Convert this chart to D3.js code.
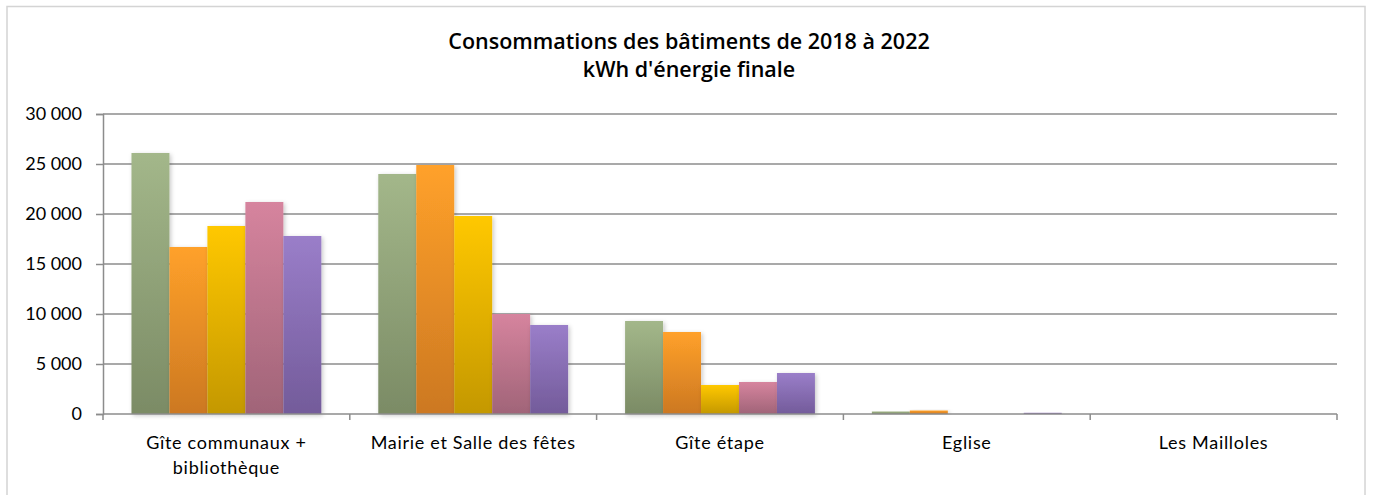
<!DOCTYPE html>
<html>
<head>
<meta charset="utf-8">
<script src="https://cdn.jsdelivr.net/npm/d3@7"></script>
<style>
  body { margin: 0; background: #fff; }
  text { fill: #000; }
</style>
</head>
<body>
<script>
//Chart data
var categories = ["Gîte communaux + bibliothèque", "Mairie et Salle des fêtes", "Gîte étape", "Eglise", "Les Mailloles"];
var years = ["2018", "2019", "2020", "2021", "2022"];
var values2018 = [26100, 24000, 9300, 250, 0];
var values2019 = [16700, 24900, 8200, 350, 0];
var values2020 = [18800, 19800, 2900, 0, 0];
var values2021 = [21200, 10000, 3200, 0, 0];
var values2022 = [17800, 8900, 4100, 120, 0];
var yTicks = [0, 5000, 10000, 15000, 20000, 25000, 30000];

var series = [values2018, values2019, values2020, values2021, values2022];

//Gradient colours (top, bottom) per year
var topColors = ["#a3b78a", "#ffa12a", "#ffc803", "#d6849e", "#9a7ec9"];
var bottomColors = ["#7b8b65", "#cc7822", "#c49800", "#a06478", "#735b9a"];

//Width and height
var w = 1373;
var h = 495;
var margin = {left: 103, right: 36, top: 114, bottom: 81};

var svg = d3.select("body")
            .append("svg")
            .attr("width", w)
            .attr("height", h);

var defs = svg.append("defs");

years.forEach(function(y, i) {
    var g = defs.append("linearGradient")
        .attr("id", "grad" + i)
        .attr("x1", 0).attr("y1", 0)
        .attr("x2", 0).attr("y2", 1);
    g.append("stop").attr("offset", "0%").attr("stop-color", topColors[i]);
    g.append("stop").attr("offset", "100%").attr("stop-color", bottomColors[i]);
});

var shadow = defs.append("filter")
    .attr("id", "shadow")
    .attr("x", "-20%").attr("y", "-20%")
    .attr("width", "140%").attr("height", "140%");
shadow.append("feDropShadow")
    .attr("dx", 1.5).attr("dy", 1.5)
    .attr("stdDeviation", 2)
    .attr("flood-color", "#000")
    .attr("flood-opacity", 0.22);

//Outer border
svg.append("rect")
    .attr("x", 7).attr("y", 6.5)
    .attr("width", 1358).attr("height", 495)
    .attr("fill", "none")
    .attr("stroke", "#d4d4d4")
    .attr("stroke-width", 1.5);

//Title
var title = svg.append("text")
    .attr("x", 688)
    .attr("text-anchor", "middle")
    .style("font-family", "'Open Sans', sans-serif")
    .style("font-weight", 600)
    .style("font-size", "21.5px");
title.append("tspan").attr("x", 689).attr("y", 49).text("Consommations des bâtiments de 2018 à 2022");
title.append("tspan").attr("x", 689).attr("y", 77).text("kWh d'énergie finale");

//Scales
var x0 = d3.scaleBand()
    .domain(categories)
    .range([margin.left, w - margin.right])
    .padding(0);

var x1 = d3.scaleBand()
    .domain(years)
    .range([0, x0.bandwidth()])
    .paddingInner(0)
    .paddingOuter(0.75);

var y = d3.scaleLinear()
    .domain([0, 30000])
    .range([h - margin.bottom, margin.top]);

var locale = d3.formatLocale({decimal: ",", thousands: " ", grouping: [3], currency: ["", " €"]});
var fmt = locale.format(",d");

//Gridlines
svg.append("g")
    .selectAll("line")
    .data(yTicks.slice(1))
    .enter()
    .append("line")
    .attr("x1", margin.left)
    .attr("x2", w - margin.right)
    .attr("y1", function(d) { return y(d); })
    .attr("y2", function(d) { return y(d); })
    .attr("stroke", "#8c8c8c")
    .attr("stroke-width", 1.5);

//Y axis
var yAxis = svg.append("g")
    .attr("transform", "translate(" + margin.left + ",0)")
    .call(d3.axisLeft(y).tickValues(yTicks).tickFormat(fmt).tickSize(7).tickPadding(14));
yAxis.select(".domain").attr("stroke", "#8c8c8c").attr("stroke-width", 1.5);
yAxis.selectAll(".tick line").attr("stroke", "#8c8c8c").attr("stroke-width", 1.5);
yAxis.selectAll("text")
    .style("font-family", "Lato, sans-serif")
    .style("font-size", "18px")
    .attr("fill", "#000");

//Bars
var groups = svg.append("g")
    .selectAll("g")
    .data(categories)
    .enter()
    .append("g")
    .attr("transform", function(d) { return "translate(" + x0(d) + ",0)"; });

groups.selectAll("rect")
    .data(function(d, ci) {
        return years.map(function(yr, si) { return {year: yr, si: si, value: series[si][ci]}; });
    })
    .enter()
    .append("rect")
    .filter(function(d) { return d.value > 0; })
    .attr("x", function(d) { return x1(d.year); })
    .attr("y", function(d) { return y(d.value); })
    .attr("width", x1.bandwidth())
    .attr("height", function(d) { return y(0) - y(d.value); })
    .attr("fill", function(d) { return "url(#grad" + d.si + ")"; })
    .attr("filter", "url(#shadow)");

//X axis
var xAxisY = y(0);
svg.append("line")
    .attr("x1", margin.left).attr("x2", w - margin.right)
    .attr("y1", xAxisY).attr("y2", xAxisY)
    .attr("stroke", "#8c8c8c")
    .attr("stroke-width", 1.5);

var boundaries = categories.map(function(c) { return x0(c); }).concat([w - margin.right]);
svg.append("g")
    .selectAll("line")
    .data(boundaries)
    .enter()
    .append("line")
    .attr("x1", function(d) { return d; })
    .attr("x2", function(d) { return d; })
    .attr("y1", xAxisY)
    .attr("y2", xAxisY + 6)
    .attr("stroke", "#8c8c8c")
    .attr("stroke-width", 1.5);

//Category labels (wrapped like Excel)
var labelLines = {
    "Gîte communaux + bibliothèque": ["Gîte communaux +", "bibliothèque"]
};
svg.append("g")
    .selectAll("text")
    .data(categories)
    .enter()
    .append("text")
    .attr("text-anchor", "middle")
    .style("font-family", "Lato, sans-serif")
    .style("font-size", "18px")
    .style("letter-spacing", "0.7px")
    .each(function(d) {
        var lines = labelLines[d] || [d];
        var cx = x0(d) + x0.bandwidth() / 2;
        var t = d3.select(this);
        lines.forEach(function(l, i) {
            t.append("tspan")
                .attr("x", cx)
                .attr("y", 449 + i * 25)
                .text(l);
        });
    });
</script>
</body>
</html>
